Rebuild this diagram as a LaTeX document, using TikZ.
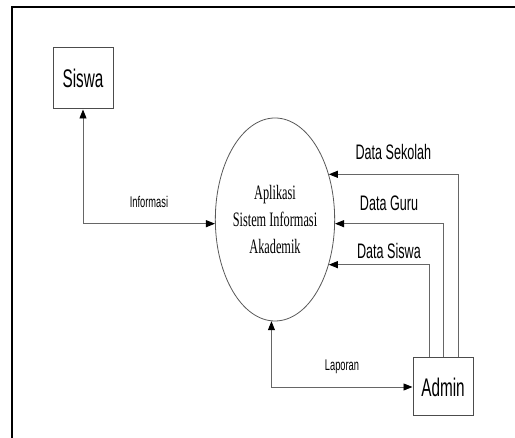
\documentclass[tikz,border=0pt]{standalone}
\usepackage{fontspec}
\newfontfamily\dfdsans[FakeStretch=0.6]{Liberation Sans}
\newfontfamily\dfdserif[FakeStretch=0.6]{Liberation Serif}
\usetikzlibrary{arrows.meta,shapes.geometric}

\begin{document}
\begin{tikzpicture}[x=1pt,y=1pt,
  >={Triangle[length=9pt,width=7pt,color=black]},
  entity/.style={draw=black!70, line width=1pt, fill=white, minimum width=60pt,
    inner sep=0pt, font=\dfdsans\fontsize{25.5}{30}\selectfont},
  process/.style={ellipse, draw=black!65, line width=0.8pt, minimum width=104pt,
    minimum height=203pt, inner sep=0pt, align=center,
    font=\dfdserif\fontsize{20.5}{27}\selectfont},
  flow/.style={draw=black!60, line width=0.9pt},
  flowlabel/.style={font=\dfdsans\fontsize{21}{25}\selectfont},
  flowsmall/.style={font=\dfdsans\fontsize{15.5}{18}\selectfont}]
\useasboundingbox (0,0) rectangle (515,438);

% Frame (only top and left edge visible)
\draw[line width=2pt] (515,431) -- (12,431) -- (12,0);

% External entities and the process
\node[entity, minimum height=61pt] (siswa) at (83,359.5) {Siswa};
\node[entity, minimum height=58pt] (admin) at (443,51) {Admin};
\node[process] (app) at (275,218.5) {Aplikasi\\Sistem Informasi\\Akademik};

% Flows to and from the process
\draw[flow, <->] (siswa.south) |- (app.184)
  node[pos=0.75, yshift=22pt, flowsmall] {Informasi};
\draw[flow, <->] (app.-92) |- (admin.west)
  node[pos=0.75, yshift=20pt, flowsmall] {Laporan};

% Data from Admin
\foreach \dx/\ang/\lift/\p/\txt in {15/40/22/0.75/Data Sekolah, 0/-4/20/0.75/Data Guru, -14/-40/14/0.7/Data Siswa} {
  \draw[flow, ->] ([xshift=\dx pt]admin.north) |- (app.\ang)
    node[pos=\p, yshift=\lift pt, flowlabel] {\txt};
}
\end{tikzpicture}
\end{document}
